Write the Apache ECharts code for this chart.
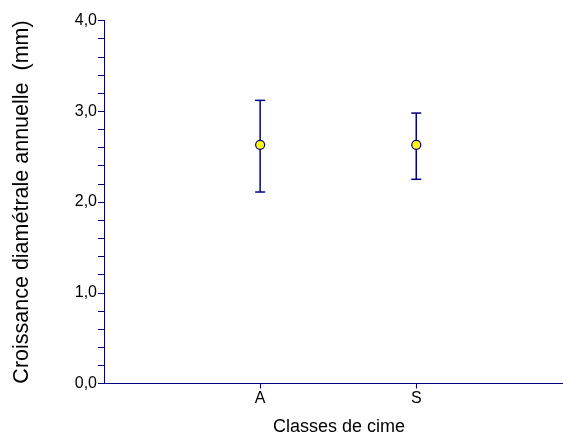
<!DOCTYPE html>
<html><head><meta charset="utf-8">
<script src="https://cdn.jsdelivr.net/npm/echarts@6/dist/echarts.min.js"></script>
<style>html,body{margin:0;padding:0;background:#fff}#c{width:563px;height:437px}</style>
</head><body><div id="c"></div>
<script>
var categories = ['A', 'S'];
var means = [2.63, 2.63];
var upper = [3.12, 2.98];
var lower = [2.11, 2.25];

var navy = '#000080';
var font = 'Liberation Sans, Arial, sans-serif';
var chart = echarts.init(document.getElementById('c'), null, {renderer: 'canvas'});
var errData = categories.map(function (c, i) { return [i + 1, lower[i], upper[i]]; });
var ptData = categories.map(function (c, i) { return [i + 1, means[i]]; });

chart.setOption({
  animation: false,
  grid: {left: 104, right: 0, top: 20.5, bottom: 53.5, containLabel: false, outerBoundsMode: 'none'},
  xAxis: {
    type: 'value', min: 0, max: 2.94, interval: 1,
    axisLine: {show: true, onZero: false, lineStyle: {color: navy, width: 1}},
    axisTick: {show: true, customValues: [1, 2], length: 5, lineStyle: {color: navy}},
    axisLabel: {customValues: [1, 2], formatter: function (v) { return categories[Math.round(v) - 1] || ''; },
      color: '#000', fontFamily: font, fontSize: 16, margin: 7},
    splitLine: {show: false}
  },
  yAxis: {
    type: 'value', min: 0, max: 4, interval: 1,
    name: 'Croissance diamétrale annuelle  (mm)', nameLocation: 'middle', nameGap: 71,
    nameTextStyle: {color: '#000', fontFamily: font, fontSize: 21.5},
    axisLine: {show: true, lineStyle: {color: navy, width: 1}},
    axisTick: {show: true, length: 6, lineStyle: {color: navy}},
    minorTick: {show: true, splitNumber: 5, length: 6, lineStyle: {color: navy}},
    axisLabel: {formatter: function (v) { return v.toFixed(1).replace('.', ','); },
      color: '#000', fontFamily: font, fontSize: 16, margin: 7},
    splitLine: {show: false}
  },
  graphic: [{type: 'text', x: 339, y: 427,
    style: {text: 'Classes de cime', fontFamily: font, fontSize: 18, fill: '#000', align: 'center', verticalAlign: 'middle'}}],
  series: [{
    type: 'custom',
    data: errData,
    renderItem: function (params, api) {
      var x = api.value(0);
      var lo = api.coord([x, api.value(1)]);
      var hi = api.coord([x, api.value(2)]);
      var hw = 5;
      var st = {stroke: navy, lineWidth: 1.5};
      return {type: 'group', children: [
        {type: 'line', shape: {x1: lo[0], y1: lo[1], x2: hi[0], y2: hi[1]}, style: st},
        {type: 'line', shape: {x1: hi[0] - hw, y1: hi[1], x2: hi[0] + hw, y2: hi[1]}, style: st},
        {type: 'line', shape: {x1: lo[0] - hw, y1: lo[1], x2: lo[0] + hw, y2: lo[1]}, style: st}
      ]};
    },
    z: 2
  }, {
    type: 'scatter', data: ptData, symbol: 'circle', symbolSize: 9,
    itemStyle: {color: '#ffff00', borderColor: navy, borderWidth: 1.2, opacity: 1}, z: 3
  }]
});
</script></body></html>
